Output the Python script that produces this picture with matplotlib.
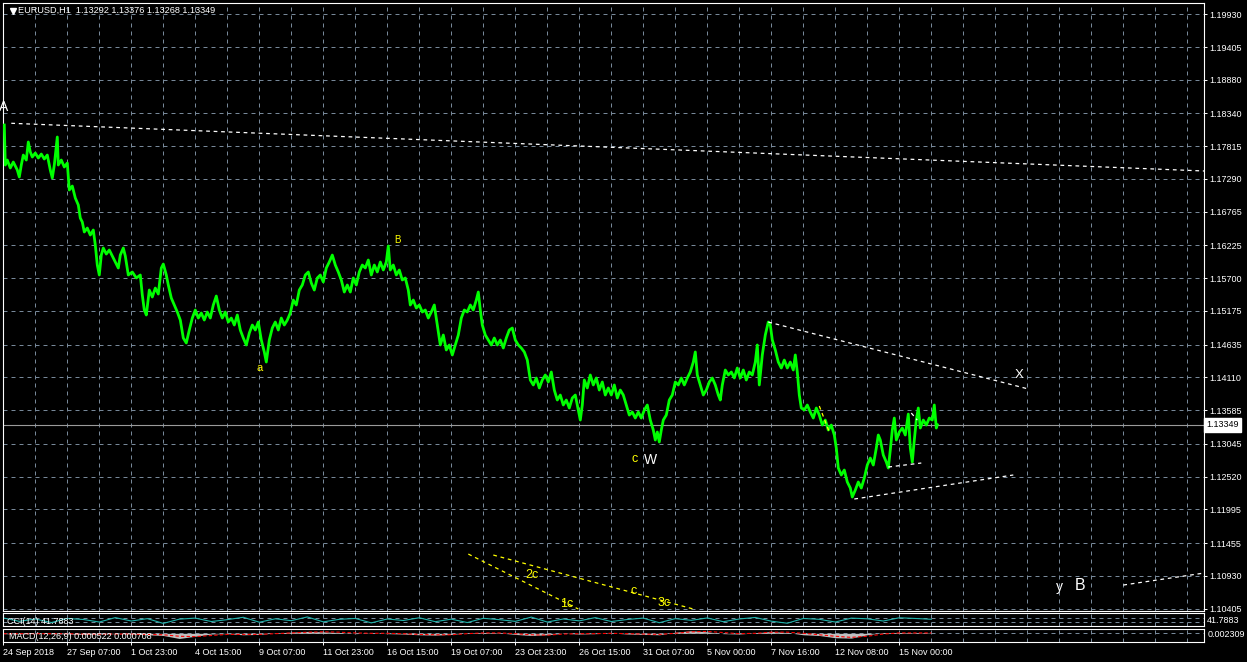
import numpy as np
import matplotlib
matplotlib.use('Agg')
import matplotlib.pyplot as plt

plt.rcParams['font.family'] = ['Liberation Sans', 'DejaVu Sans']

# EURUSD H1 closes (bar number, price)
bars = [1, 2, 4, 7, 10, 14, 16, 18, 20, 23,
        25, 27, 29, 32, 35, 38, 41, 44, 47, 49,
        51, 54, 55, 58, 61, 64, 66, 69, 72, 75,
        77, 79, 81, 84, 87, 90, 92, 94, 96, 98,
        100, 103, 106, 109, 112, 115, 117, 120, 122, 125,
        129, 133, 137, 139, 141, 143, 146, 149, 152, 155,
        158, 160, 163, 165, 168, 171, 174, 177, 180, 183,
        186, 189, 192, 195, 198, 201, 204, 207, 210, 213,
        216, 219, 222, 225, 228, 231, 234, 237, 240, 243,
        246, 249, 252, 255, 258, 261, 263, 266, 269, 272,
        275, 278, 281, 284, 287, 290, 293, 296, 299, 302,
        305, 308, 311, 314, 317, 320, 323, 326, 329, 332,
        335, 338, 341, 344, 347, 350, 353, 356, 359, 362,
        365, 368, 371, 374, 377, 380, 383, 385, 387, 390,
        393, 396, 399, 402, 405, 407, 410, 413, 416, 419,
        422, 425, 428, 431, 434, 437, 440, 443, 446, 449,
        452, 455, 458, 461, 464, 467, 470, 473, 475, 477,
        479, 482, 485, 488, 491, 494, 497, 500, 503, 506,
        509, 512, 515, 518, 521, 524, 527, 530, 533, 536,
        539, 542, 545, 548, 551, 554, 557, 560, 563, 566,
        569, 572, 575, 577, 579, 581, 584, 587, 590, 593,
        596, 599, 602, 605, 608, 611, 614, 617, 620, 623,
        626, 629, 632, 635, 638, 641, 644, 647, 650, 652,
        654, 656, 658, 660, 663, 666, 669, 672, 675, 678,
        681, 684, 687, 690, 692, 694, 697, 700, 703, 706,
        709, 712, 715, 717, 719, 722, 725, 728, 731, 734,
        737, 740, 743, 746, 749, 752, 754, 756, 759, 762,
        765, 767, 769, 772, 775, 778, 781, 784, 787, 790,
        792, 794, 796, 798, 801, 804, 807, 810, 813, 816,
        819, 822, 825, 828, 831, 833, 835, 838, 841, 844,
        847, 849, 852, 855, 858, 861, 864, 867, 870, 873,
        875, 877, 880, 883, 885, 887, 889, 891, 893, 896,
        899, 902, 905, 907, 909, 911, 913, 915, 917, 920,
        923, 926, 929, 931, 933, 934]

close = [1.18155, 1.17514, 1.17594, 1.17466, 1.17562, 1.17434, 1.17322, 1.17514, 1.17674, 1.17594,
         1.17883, 1.17722, 1.17642, 1.17706, 1.17626, 1.17690, 1.17610, 1.17674, 1.17434, 1.17306,
         1.17514, 1.17963, 1.17514, 1.17594, 1.17482, 1.17546, 1.17113, 1.17177, 1.16985, 1.16873,
         1.16664, 1.16600, 1.16440, 1.16504, 1.16392, 1.16472, 1.16232, 1.15911, 1.15751, 1.16071,
         1.16184, 1.16087, 1.16152, 1.16055, 1.15959, 1.15863, 1.16071, 1.16184, 1.16055, 1.15751,
         1.15799, 1.15703, 1.15751, 1.15430, 1.15190, 1.15110, 1.15510, 1.15398, 1.15542, 1.15446,
         1.15863, 1.15927, 1.15751, 1.15591, 1.15382, 1.15270, 1.15158, 1.15029, 1.14741, 1.14661,
         1.14869, 1.15061, 1.15190, 1.15061, 1.15142, 1.15029, 1.15158, 1.15061, 1.15270, 1.15414,
         1.15190, 1.15061, 1.15158, 1.14997, 1.15061, 1.14949, 1.15110, 1.14869, 1.14741, 1.14629,
         1.14821, 1.14949, 1.14869, 1.14997, 1.14709, 1.14517, 1.14356, 1.14709, 1.14901, 1.14997,
         1.14869, 1.15061, 1.14949, 1.15029, 1.15142, 1.15350, 1.15270, 1.15510, 1.15591, 1.15751,
         1.15799, 1.15623, 1.15510, 1.15703, 1.15751, 1.15639, 1.15863, 1.15959, 1.16071, 1.15911,
         1.15799, 1.15671, 1.15478, 1.15591, 1.15478, 1.15703, 1.15591, 1.15799, 1.15911, 1.15863,
         1.15991, 1.15751, 1.15911, 1.15799, 1.15959, 1.15831, 1.15959, 1.16216, 1.15831, 1.15911,
         1.15751, 1.15831, 1.15671, 1.15703, 1.15510, 1.15270, 1.15350, 1.15222, 1.15270, 1.15158,
         1.15190, 1.15061, 1.15158, 1.15270, 1.14949, 1.14629, 1.14789, 1.14549, 1.14629, 1.14469,
         1.14629, 1.14789, 1.15061, 1.15190, 1.15158, 1.15270, 1.15190, 1.15350, 1.15478, 1.15190,
         1.14949, 1.14789, 1.14709, 1.14629, 1.14741, 1.14629, 1.14709, 1.14581, 1.14741, 1.14869,
         1.14901, 1.14709, 1.14629, 1.14581, 1.14517, 1.14388, 1.14068, 1.13988, 1.14100, 1.13940,
         1.14068, 1.14148, 1.14036, 1.14196, 1.13907, 1.13747, 1.13827, 1.13667, 1.13747, 1.13619,
         1.13779, 1.13827, 1.13586, 1.13426, 1.13667, 1.14068, 1.13940, 1.14148, 1.13988, 1.14100,
         1.13907, 1.14036, 1.13827, 1.13940, 1.13827, 1.13988, 1.13779, 1.13907, 1.13827, 1.13667,
         1.13506, 1.13554, 1.13458, 1.13554, 1.13458, 1.13586, 1.13667, 1.13426, 1.13266, 1.13106,
         1.13234, 1.13074, 1.13266, 1.13426, 1.13506, 1.13747, 1.13827, 1.14036, 1.13988, 1.14100,
         1.13988, 1.14100, 1.14196, 1.14356, 1.14517, 1.14148, 1.13988, 1.13827, 1.13907, 1.14036,
         1.14100, 1.13988, 1.13827, 1.13747, 1.13988, 1.14228, 1.14148, 1.14196, 1.14100, 1.14260,
         1.14100, 1.14228, 1.14068, 1.14196, 1.14148, 1.14356, 1.14629, 1.13988, 1.14469, 1.14789,
         1.14997, 1.14949, 1.14709, 1.14549, 1.14356, 1.14260, 1.14388, 1.14260, 1.14356, 1.14228,
         1.14469, 1.14196, 1.13827, 1.13619, 1.13586, 1.13667, 1.13554, 1.13458, 1.13619, 1.13506,
         1.13346, 1.13426, 1.13266, 1.13346, 1.13186, 1.12977, 1.12657, 1.12545, 1.12625, 1.12433,
         1.12336, 1.12192, 1.12304, 1.12433, 1.12336, 1.12497, 1.12705, 1.12817, 1.12705, 1.12977,
         1.13186, 1.13106, 1.12865, 1.12753, 1.12657, 1.12946, 1.13266, 1.13458, 1.13106, 1.13234,
         1.13298, 1.13186, 1.13522, 1.12977, 1.12753, 1.13106, 1.13426, 1.13619, 1.13298, 1.13426,
         1.13346, 1.13458, 1.13426, 1.13667, 1.13298, 1.13349]

price_ticks = ['1.19930', '1.19405', '1.18880', '1.18340', '1.17815', '1.17290', '1.16765',
               '1.16225', '1.15700', '1.15175', '1.14635', '1.14110', '1.13585', '1.13045',
               '1.12520', '1.11995', '1.11455', '1.10930', '1.10405']
time_labels = ['24 Sep 2018', '27 Sep 07:00', '1 Oct 23:00', '4 Oct 15:00', '9 Oct 07:00',
               '11 Oct 23:00', '16 Oct 15:00', '19 Oct 07:00', '23 Oct 23:00', '26 Oct 15:00',
               '31 Oct 07:00', '5 Nov 00:00', '7 Nov 16:00', '12 Nov 08:00', '15 Nov 00:00']

# indicator values, one every 16 bars
cci = [120, -80, 60, -150, 90, 30, -120, 140, -60, 80, -200, 50, 110, -90, 20, 160, -130, 70,
       -40, 180, -110, 40, 90, -170, 60, -30, 130, -100, 50, -150, 100, 20, -80, 170, -120, 60,
       -50, 140, -90, 30, 110, -160, 80, -20, 120, -100, 60, 150, -70, -190, 90, 40, -120, 110,
       70, -60, 130, 90, 42]
macd = [-0.0001, -0.0002, 0.0, -0.0001, -0.0002, -0.0003, -0.0002, -0.0001, -0.0002, -0.0004,
        -0.0006, -0.0014, -0.0008, -0.0002, -0.0001, -0.0004, -0.0003, 0.0001, 0.0003, 0.0005,
        0.0004, 0.0002, -0.0001, 0.0001, -0.0001, -0.0002, -0.0004, -0.0005, -0.0003, 0.0001,
        0.0002, 0.0001, -0.0003, -0.0006, -0.0004, 0.0, -0.0002, -0.0001, 0.0001, -0.0002,
        -0.0003, -0.0004, 0.0003, 0.0007, 0.0004, -0.0001, -0.0002, 0.0001, 0.0005, 0.0002,
        -0.0004, -0.0006, -0.0012, -0.0013, -0.0004, 0.0002, 0.0002, 0.0001, 0.0001]
signal = [-0.0001, -0.0001, -0.0001, -0.0001, -0.0001, -0.0002, -0.0002, -0.0002, -0.0002, -0.0003,
          -0.0004, -0.0008, -0.0009, -0.0006, -0.0003, -0.0003, -0.0003, -0.0001, 0.0001, 0.0003,
          0.0004, 0.0003, 0.0001, 0.0, 0.0, -0.0001, -0.0003, -0.0004, -0.0004, -0.0001,
          0.0001, 0.0001, -0.0001, -0.0004, -0.0005, -0.0002, -0.0001, -0.0001, 0.0, -0.0001,
          -0.0002, -0.0003, 0.0, 0.0004, 0.0005, 0.0002, -0.0001, 0.0, 0.0003, 0.0003,
          0.0, -0.0004, -0.0008, -0.0011, -0.0008, -0.0002, 0.0001, 0.0001, 0.0001]

# wave labels: text, bar, price, colour, size
wave_labels = [('A', 0, 1.18444, 'white', 10), ('a', 256, 1.14260, '#ffff00', 8),
               ('B', 394.5, 1.16304, '#ffff00', 7), ('c', 631.5, 1.12809, '#ffff00', 9),
               ('W', 647.5, 1.12785, 'white', 10), ('X', 1015.5, 1.14140, 'white', 9.5),
               ('y', 1056, 1.10750, 'white', 10), ('B', 1076.5, 1.10766, 'white', 11.5),
               ('2c', 528.5, 1.10942, '#ffff00', 9), ('1c', 563.5, 1.10477, '#ffff00', 9),
               ('c', 630, 1.10685, '#ffff00', 9), ('3c', 661, 1.10493, '#ffff00', 9)]
# trend lines: (bar0, price0, bar1, price1, colour)
trend_lines = [(8, 1.18183, 1201, 1.17418, 'white'), (765, 1.14997, 1025, 1.13924, 'white'),
               (851, 1.12160, 1010, 1.12545, 'white'), (885, 1.12673, 918, 1.12737, 'white'),
               (908, 1.13538, 914, 1.13426, 'white'), (1120, 1.10781, 1201, 1.10974, 'white'),
               (465, 1.11278, 575, 1.10397, '#ffff00'), (490, 1.11262, 690, 1.10397, '#ffff00'),
               (816, 1.13651, 826, 1.13234, '#ffff00')]

W, H = 1247, 662
grid_col = '#778899'
dash = (0, (4, 4))


def rect(l, t, r, b):
    return [l / W, 1 - b / H, (r - l) / W, (b - t) / H]


fig = plt.figure(figsize=(W / 100, H / 100), dpi=100, facecolor='black')
ax = fig.add_axes(rect(3.3, 3, 1204.3, 611))
ax_cci = fig.add_axes(rect(3.3, 612.7, 1204.3, 626))
ax_macd = fig.add_axes(rect(3.3, 628.7, 1204.3, 642))

for a in (ax, ax_cci, ax_macd):
    a.set_facecolor('black')
    a.set_xlim(0, 1201)
    for s in a.spines.values():
        s.set_color('white')
        s.set_linewidth(0.8)
    for xv in np.arange(32, 1201, 32):
        a.axvline(xv, color=grid_col, lw=0.72, linestyle=dash, zorder=0)
    a.tick_params(axis='x', bottom=False, labelbottom=False)

# main price pane
ax.set_ylim(1.10365, 1.20111)
tick_vals = [float(t) for t in price_ticks]
ax.yaxis.tick_right()
ax.set_yticks(tick_vals)
ax.set_yticklabels(price_ticks)
ax.tick_params(axis='y', colors='white', length=2.2, width=0.7, pad=1.5, labelsize=6.5)
for tv in tick_vals:
    ax.axhline(tv, color=grid_col, lw=0.72, linestyle=dash, zorder=0)

ax.axhline(close[-1], color='#9a9a9a', lw=0.8, zorder=1)
ax.plot(bars, close, color='#00ff00', lw=2.0, zorder=3)

for x0, y0, x1, y1, col in trend_lines:
    ax.plot([x0, x1], [y0, y1], color=col, lw=0.9, linestyle=(0, (3, 3)), zorder=4)

for txt, bx, py, col, fs in wave_labels:
    ax.text(bx, py, txt, color=col, fontsize=fs, ha='center', va='center', zorder=5)

ax.text(1 + 2 / 1201, close[-1], '%.5f' % close[-1], transform=ax.get_yaxis_transform(),
        color='black', fontsize=6.5, ha='left', va='center',
        bbox=dict(boxstyle='square,pad=0.25', fc='white', ec='white'))

ax.plot([10 / 1201], [1 - 8 / 608], marker='v', ms=4, color='white',
        transform=ax.transAxes, clip_on=False)
ax.text(15 / 1201, 1 - 7.5 / 608, 'EURUSD,H1  1.13292 1.13376 1.13268 1.13349',
        transform=ax.transAxes, color='white', fontsize=6.6, va='center', ha='left')

# CCI pane
ax_cci.set_ylim(-353, 429)
ax_cci.set_yticks([])
for lv in (100, -100):
    ax_cci.axhline(lv, color=grid_col, lw=0.72, linestyle=dash, zorder=0)
ax_cci.plot(np.arange(len(cci)) * 16, cci, color='#20b2aa', lw=0.8)
ax_cci.text(0.003, 0.34, 'CCI(14) 41.7883', transform=ax_cci.transAxes, color='white',
            fontsize=6.5, va='center')
ax_cci.text(1 + 3 / 1201, 0.45, '41.7883', transform=ax_cci.transAxes, color='white',
            fontsize=6.5, va='center', clip_on=False)

# MACD pane
ax_macd.set_ylim(-0.00235, 0.00124)
ax_macd.set_yticks([])
ax_macd.axhline(0, color=grid_col, lw=0.72, linestyle=dash, zorder=0)
mx = np.arange(len(macd)) * 16
ax_macd.fill_between(mx, 0, macd, color='#c0c0c0', lw=0)
ax_macd.plot(np.arange(len(signal)) * 16, signal, color='red', lw=0.8, linestyle=(0, (3, 2)))
ax_macd.text(0.005, 0.38, 'MACD(12,26,9) 0.000522 0.000708', transform=ax_macd.transAxes,
             color='white', fontsize=6.5, va='center')
ax_macd.text(1 + 3 / 1201, 0.56, '0.002309', transform=ax_macd.transAxes, color='white',
             fontsize=6.5, va='center', clip_on=False)

ax_macd.tick_params(axis='x', bottom=True, labelbottom=True, colors='white', length=2.5,
                    width=0.7, pad=1.5, labelsize=6.5)
ax_macd.set_xticks(np.arange(len(time_labels)) * 64)
ax_macd.set_xticklabels(time_labels)
for lbl in ax_macd.get_xticklabels():
    lbl.set_ha('left')

fig.savefig('out.png', dpi=100, facecolor='black')
